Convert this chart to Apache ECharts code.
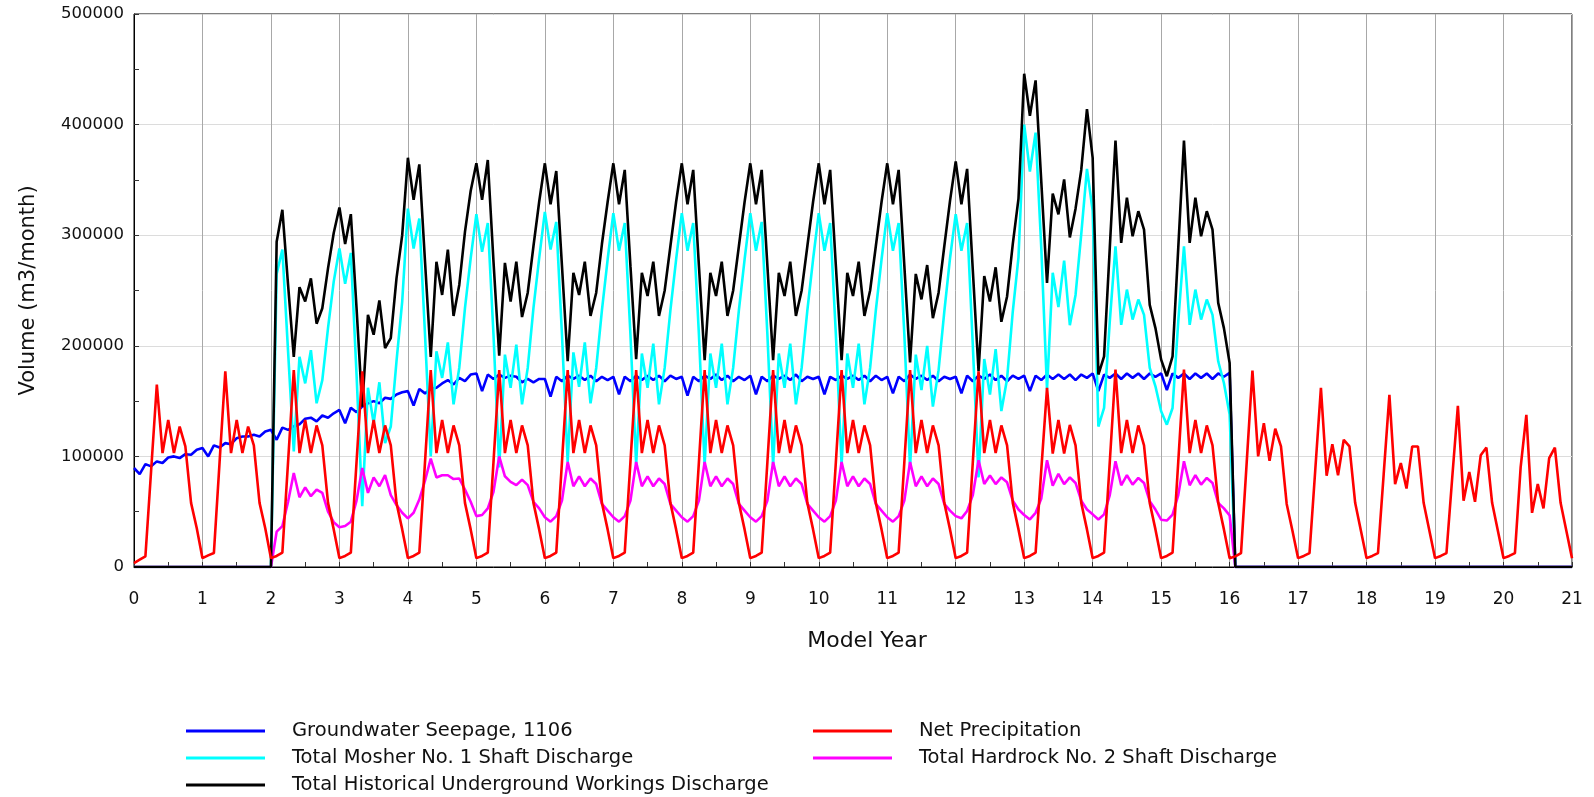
<!DOCTYPE html>
<html>
<head>
<meta charset="utf-8">
<script src="https://cdn.jsdelivr.net/npm/echarts@6/dist/echarts.min.js"></script>
<style>
html,body{margin:0;padding:0;background:#fff;}
#chart{width:1594px;height:797px;}
</style>
</head>
<body>
<div id="chart"></div>
<script>
// Monthly values, 12 per model year (years 0..20) plus the final point at year 21.
const seriesNames = [
  "Groundwater Seepage, 1106",
  "Net Precipitation",
  "Total Mosher No. 1 Shaft Discharge",
  "Total Hardrock No. 2 Shaft Discharge",
  "Total Historical Underground Workings Discharge"
];
const xTickLabels = ["0","1","2","3","4","5","6","7","8","9","10","11","12","13","14","15","16","17","18","19","20","21"];

const groundwater = [
  89500, 84000, 93000, 91000, 95500, 94000, 99000, 100000, 98500, 102000, 101500, 106000,
  107500, 100000, 110000, 108000, 112000, 111000, 116500, 118000, 118000, 119500, 118000, 122500,
  124000, 115000, 126000, 124000, 127000, 129000, 134000, 135000, 131600, 137000, 135000, 139000,
  142000, 130000, 144000, 140000, 145000, 148000, 150000, 148000, 153000, 152000, 156000, 158000,
  159000, 146000, 161000, 157000, 161000, 162000, 166000, 169000, 165000, 171000, 168000, 174000,
  175000, 159000, 174000, 170000, 174000, 171000, 173000, 172000, 167000, 170000, 167000, 170000,
  170000, 154000, 172000, 168000, 173000, 170000, 173000, 169000, 173000, 168000, 172000, 169000,
  172000, 156000, 172000, 168000, 173000, 169000, 173000, 169000, 173000, 168000, 173000, 170000,
  172000, 155000, 172000, 168000, 173000, 170000, 174000, 169000, 173000, 168000, 172000, 169000,
  173000, 156000, 172000, 168000, 173000, 170000, 173000, 169000, 174000, 168000, 172000, 170000,
  172000, 156000, 172000, 169000, 173000, 170000, 173000, 169000, 173000, 168000, 173000, 169000,
  172000, 157000, 172000, 168000, 174000, 170000, 173000, 169000, 173000, 168000, 172000, 170000,
  172000, 157000, 173000, 168000, 173000, 170000, 174000, 169000, 173000, 168000, 173000, 170000,
  173000, 159000, 173000, 169000, 174000, 170000, 174000, 170000, 174000, 169000, 174000, 171000,
  175000, 159000, 174000, 171000, 175000, 170000, 175000, 171000, 175000, 170000, 175000, 172000,
  175000, 160000, 175000, 171000, 175000, 170000, 175000, 171000, 175000, 170000, 175000, 172000,
  175500, 0, 0, 0, 0, 0, 0, 0, 0, 0, 0, 0,
  0, 0, 0, 0, 0, 0, 0, 0, 0, 0, 0, 0,
  0, 0, 0, 0, 0, 0, 0, 0, 0, 0, 0, 0,
  0, 0, 0, 0, 0, 0, 0, 0, 0, 0, 0, 0,
  0, 0, 0, 0, 0, 0, 0, 0, 0, 0, 0, 0,
  0
];

const netPrecip = [
  3600, 6600, 9600, 87000, 165000, 103000, 133000, 103000, 127000, 109000, 58000, 35000,
  8000, 10500, 12600, 95000, 177000, 103000, 133000, 103000, 127000, 110000, 58000, 35000,
  8000, 10000, 13000, 95000, 178000, 103000, 133000, 103000, 128000, 110000, 58000, 34000,
  8000, 10000, 13000, 95000, 177000, 103000, 133000, 103000, 128000, 110000, 58000, 34000,
  8000, 10000, 13000, 95000, 178000, 103000, 133000, 103000, 128000, 110000, 58000, 34000,
  8000, 10000, 13000, 95000, 178000, 103000, 133000, 103000, 128000, 110000, 58000, 34000,
  8000, 10000, 13000, 95000, 178000, 103000, 133000, 103000, 128000, 110000, 58000, 34000,
  8000, 10000, 13000, 95000, 178000, 103000, 133000, 103000, 128000, 110000, 58000, 34000,
  8000, 10000, 13000, 95000, 178000, 103000, 133000, 103000, 128000, 110000, 58000, 34000,
  8000, 10000, 13000, 95000, 178000, 103000, 133000, 103000, 128000, 110000, 58000, 34000,
  8000, 10000, 13000, 95000, 178000, 103000, 133000, 103000, 128000, 110000, 58000, 34000,
  8000, 10000, 13000, 95000, 178000, 103000, 133000, 103000, 128000, 110000, 58000, 34000,
  8000, 10000, 13000, 95000, 177000, 103000, 133000, 103000, 128000, 110000, 58000, 34000,
  8000, 10000, 13000, 88000, 162000, 102600, 133000, 102600, 128500, 110000, 58000, 34000,
  8000, 10000, 13000, 95000, 178500, 103000, 133000, 103000, 128000, 110000, 58000, 34000,
  8000, 10000, 13000, 95000, 178500, 103000, 133000, 103000, 128000, 110000, 58000, 34000,
  8000, 9600, 12600, 95000, 177700, 100000, 130000, 96000, 125000, 109000, 57000, 33000,
  8000, 10000, 12600, 87000, 162000, 82500, 111000, 83000, 115000, 109000, 58000, 33000,
  8000, 10000, 12600, 84000, 155700, 75000, 94000, 71000, 109000, 109000, 58000, 33000,
  8000, 10000, 12600, 80000, 145800, 60000, 86000, 59000, 101000, 108000, 58000, 33000,
  8000, 10000, 12600, 90000, 137600, 49000, 75000, 53000, 98500, 108000, 58000, 33000,
  8000
];

const mosher = [
  0, 0, 0, 0, 0, 0, 0, 0, 0, 0, 0, 0,
  0, 0, 0, 0, 0, 0, 0, 0, 0, 0, 0, 0,
  0, 265000, 287000, 195000, 104500, 190000, 166000, 196000, 148000, 169000, 216000, 258000,
  288000, 256000, 284000, 174000, 55000, 162000, 130000, 167000, 112000, 127000, 186000, 240000,
  324000, 288000, 315000, 210000, 100000, 195000, 171000, 203000, 147000, 180000, 234000, 279000,
  319000, 285000, 311000, 210000, 90000, 192000, 162000, 201000, 147000, 180000, 234000, 279000,
  321000, 287000, 312000, 210000, 95000, 194000, 163000, 203000, 148000, 180000, 232000, 278000,
  320000, 286000, 311000, 210000, 93000, 193000, 162000, 202000, 147000, 180000, 232000, 278000,
  320000, 286000, 311000, 210000, 92000, 193000, 162000, 202000, 147000, 180000, 232000, 278000,
  320000, 286000, 312000, 210000, 92000, 193000, 162000, 202000, 147000, 180000, 232000, 278000,
  320000, 286000, 311000, 210000, 92000, 193000, 162000, 202000, 147000, 180000, 232000, 278000,
  320000, 286000, 311000, 210000, 90000, 192000, 160000, 200000, 145000, 178000, 231000, 279000,
  319000, 286000, 311000, 200000, 81000, 188000, 156000, 197000, 141000, 170000, 231000, 280000,
  400000, 357600, 392700, 288000, 160600, 266000, 235000, 277000, 218600, 246000, 301000, 360000,
  322000, 127000, 143800, 222000, 290000, 219000, 250800, 223700, 241800, 228000, 180000, 163400,
  140800, 128700, 143800, 222000, 290000, 219000, 250800, 223700, 241800, 228000, 186000, 166400,
  137800, 0, 0, 0, 0, 0, 0, 0, 0, 0, 0, 0,
  0, 0, 0, 0, 0, 0, 0, 0, 0, 0, 0, 0,
  0, 0, 0, 0, 0, 0, 0, 0, 0, 0, 0, 0,
  0, 0, 0, 0, 0, 0, 0, 0, 0, 0, 0, 0,
  0, 0, 0, 0, 0, 0, 0, 0, 0, 0, 0, 0,
  0
];

const hardrock = [
  0, 0, 0, 0, 0, 0, 0, 0, 0, 0, 0, 0,
  0, 0, 0, 0, 0, 0, 0, 0, 0, 0, 0, 0,
  0, 32000, 37000, 59000, 85000, 63000, 72000, 64000, 70000, 67000, 50000, 40500,
  36000, 37000, 41000, 60000, 89500, 67000, 81000, 73000, 83000, 65000, 56000, 49000,
  44000, 49000, 61000, 78000, 98000, 81000, 83000, 83000, 79500, 80000, 70000, 59000,
  46000, 47000, 53000, 68000, 100000, 82000, 77000, 74000, 79000, 74000, 59000, 53000,
  45000, 41000, 46000, 60000, 95000, 73000, 82000, 73000, 80000, 75000, 57000, 51000,
  45000, 41000, 46000, 60000, 95000, 73000, 82000, 73000, 80000, 75000, 57000, 51000,
  45000, 41000, 46000, 60000, 95000, 73000, 82000, 73000, 80000, 75000, 57000, 51000,
  45000, 41000, 46000, 60000, 95000, 73000, 82000, 73000, 80000, 75000, 57000, 51000,
  45000, 41000, 46000, 60000, 95000, 73000, 82000, 73000, 80000, 75000, 57000, 51000,
  45000, 41000, 46000, 60000, 95000, 73000, 82000, 73000, 80000, 75000, 57000, 51000,
  46000, 44000, 50700, 65000, 96500, 75000, 82700, 75000, 81000, 76600, 60000, 52000,
  47000, 43000, 49000, 62000, 96500, 73600, 84300, 75000, 81000, 76000, 60000, 52000,
  47600, 43000, 47600, 65000, 95600, 73900, 83000, 74500, 80500, 76000, 59400, 51900,
  42800, 42000, 47300, 65000, 95600, 73900, 83000, 74500, 80500, 76000, 58000, 53000,
  46700, 0, 0, 0, 0, 0, 0, 0, 0, 0, 0, 0,
  0, 0, 0, 0, 0, 0, 0, 0, 0, 0, 0, 0,
  0, 0, 0, 0, 0, 0, 0, 0, 0, 0, 0, 0,
  0, 0, 0, 0, 0, 0, 0, 0, 0, 0, 0, 0,
  0, 0, 0, 0, 0, 0, 0, 0, 0, 0, 0, 0,
  0
];

const historical = [
  0, 0, 0, 0, 0, 0, 0, 0, 0, 0, 0, 0,
  0, 0, 0, 0, 0, 0, 0, 0, 0, 0, 0, 0,
  0, 294000, 323000, 255000, 190000, 253000, 240000, 261000, 220000, 234000, 270000, 302000,
  325000, 292000, 319000, 234000, 145000, 228000, 210000, 241000, 198000, 207000, 261000, 300000,
  370000, 332000, 364000, 276000, 190000, 276000, 246000, 287000, 227000, 255000, 303000, 340000,
  365000, 332000, 368000, 276000, 191000, 275000, 240000, 276000, 226000, 248000, 290000, 330000,
  365000, 328000, 358000, 272000, 186000, 266000, 246000, 276000, 227000, 248000, 292000, 330000,
  365000, 328000, 359000, 272000, 188000, 266000, 245000, 276000, 227000, 250000, 290000, 330000,
  365000, 328000, 359000, 272000, 187000, 266000, 245000, 276000, 227000, 250000, 290000, 330000,
  365000, 328000, 359000, 272000, 187000, 266000, 245000, 276000, 227000, 250000, 290000, 330000,
  365000, 328000, 359000, 272000, 187000, 266000, 245000, 276000, 227000, 250000, 290000, 330000,
  365000, 328000, 359000, 272000, 185000, 265000, 242000, 273000, 225000, 248000, 290000, 331000,
  366700, 328000, 360000, 268000, 177000, 263000, 240000, 271000, 221700, 244600, 292000, 333000,
  446000, 408000, 440000, 348000, 256800, 337700, 318800, 350500, 298000, 324000, 359000, 414000,
  370000, 174000, 190500, 288500, 385600, 293000, 334000, 299000, 321700, 305000, 237000, 216000,
  187500, 172500, 190500, 288500, 385600, 293000, 334000, 299000, 321700, 305000, 238800, 216000,
  184500, 0, 0, 0, 0, 0, 0, 0, 0, 0, 0, 0,
  0, 0, 0, 0, 0, 0, 0, 0, 0, 0, 0, 0,
  0, 0, 0, 0, 0, 0, 0, 0, 0, 0, 0, 0,
  0, 0, 0, 0, 0, 0, 0, 0, 0, 0, 0, 0,
  0, 0, 0, 0, 0, 0, 0, 0, 0, 0, 0, 0,
  0
];

const colors = ["#0000ff", "#ff0000", "#00ffff", "#ff00ff", "#000000"];
const FONT = "DejaVu Sans";

function toPairs(arr) {
  return arr.map(function (v, i) { return [i / 12, v]; });
}

const valuesByName = {};
valuesByName[seriesNames[0]] = groundwater;
valuesByName[seriesNames[1]] = netPrecip;
valuesByName[seriesNames[2]] = mosher;
valuesByName[seriesNames[3]] = hardrock;
valuesByName[seriesNames[4]] = historical;
const colorByName = {};
seriesNames.forEach(function (n, i) { colorByName[n] = colors[i]; });

// drawing order (later on top)
const drawOrder = [seriesNames[0], seriesNames[2], seriesNames[3], seriesNames[4], seriesNames[1]];

const series = drawOrder.map(function (name) {
  return {
    name: name,
    type: "line",
    data: toPairs(valuesByName[name]),
    showSymbol: false,
    symbol: "none",
    color: colorByName[name],
    lineStyle: { color: colorByName[name], width: 2.6 },
    itemStyle: { color: colorByName[name] },
    emphasis: { disabled: true },
    silent: true
  };
});

const legendPos = [
  { name: seriesNames[0], left: 186, top: 720 },
  { name: seriesNames[1], left: 813, top: 720 },
  { name: seriesNames[2], left: 186, top: 747 },
  { name: seriesNames[3], left: 813, top: 747 },
  { name: seriesNames[4], left: 186, top: 774 }
];
const legends = legendPos.map(function (p) {
  return {
    data: [p.name],
    left: p.left,
    top: p.top,
    padding: 0,
    itemWidth: 79,
    itemHeight: 3,
    icon: "rect",
    selectedMode: false,
    textStyle: { fontFamily: FONT, fontSize: 19.5, color: "#111", padding: [0, 0, 0, 22], lineHeight: 22 }
  };
});

const chart = echarts.init(document.getElementById("chart"), null, { renderer: "canvas" });
chart.setOption({
  animation: false,
  backgroundColor: "#ffffff",
  grid: { left: 134, right: 22, top: 14, bottom: 230, show: true, borderColor: "#000", borderWidth: 1, backgroundColor: "transparent" },
  legend: legends,
  xAxis: {
    type: "value",
    min: 0,
    max: 21,
    interval: 1,
    name: "Model Year",
    nameLocation: "middle",
    nameGap: 63,
    nameTextStyle: { fontFamily: FONT, fontSize: 22, color: "#111", padding: [0, 0, 0, 28] },
    axisLine: { show: true, onZero: false, lineStyle: { color: "#000", width: 1 } },
    axisTick: { show: true, inside: true, length: 5, lineStyle: { color: "#333" } },
    minorTick: { show: true, splitNumber: 2, length: 5, lineStyle: { color: "#333" } },
    axisLabel: {
      fontFamily: FONT, fontSize: 17, color: "#111", margin: 24,
      formatter: function (v) { return xTickLabels[Math.round(v)]; }
    },
    splitLine: { show: true, lineStyle: { color: "#a8a8a8", width: 1 } }
  },
  yAxis: {
    type: "value",
    min: 0,
    max: 500000,
    interval: 100000,
    name: "Volume (m3/month)",
    nameLocation: "middle",
    nameGap: 95,
    nameRotate: 90,
    nameTextStyle: { fontFamily: FONT, fontSize: 21, color: "#111" },
    axisLine: { show: true, lineStyle: { color: "#000", width: 1 } },
    axisTick: { show: true, inside: true, length: 5, lineStyle: { color: "#333" } },
    minorTick: { show: true, splitNumber: 2, length: 5, lineStyle: { color: "#333" } },
    axisLabel: {
      fontFamily: FONT, fontSize: 16.5, color: "#111", margin: 10,
      formatter: function (v) { return String(v); }
    },
    splitLine: { show: true, lineStyle: { color: "#dcdcdc", width: 1 } }
  },
  series: series
});
</script>
</body>
</html>
